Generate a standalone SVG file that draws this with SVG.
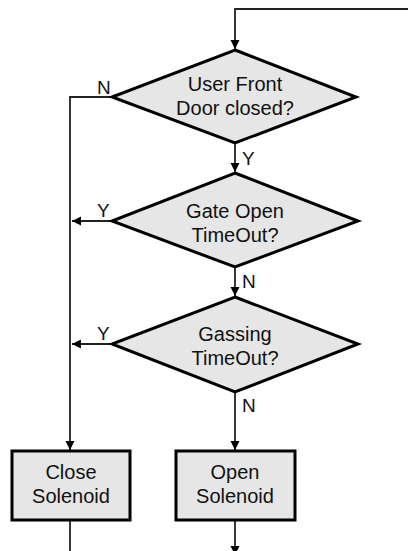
<svg xmlns="http://www.w3.org/2000/svg" width="408" height="551" viewBox="0 0 408 551">
<style>
.shape{fill:#e6e6e6;stroke:#000;stroke-width:3;stroke-linejoin:miter}
.line{fill:none;stroke:#222;stroke-width:1.8}
.t{font-family:"Liberation Sans",Arial,sans-serif;font-size:20px;fill:#111;text-anchor:middle}
.lbl{font-family:"Liberation Sans",Arial,sans-serif;font-size:19px;fill:#111}
</style>
<defs>
<marker id="arr" markerWidth="10" markerHeight="10" refX="9" refY="4.5" orient="auto" markerUnits="userSpaceOnUse">
<path d="M0,0 L9,4.5 L0,9 Z" fill="#000"/>
</marker>
</defs>
<rect width="408" height="551" fill="#fff"/>
<g id="connectors">
<path class="line" d="M408,9 H235 V49" marker-end="url(#arr)"/>
<path class="line" d="M111,97 H70 V450" marker-end="url(#arr)"/>
<path class="line" d="M235,143 V172" marker-end="url(#arr)"/>
<path class="line" d="M111,221 H72" marker-end="url(#arr)"/>
<path class="line" d="M235,267 V296" marker-end="url(#arr)"/>
<path class="line" d="M111,344 H72" marker-end="url(#arr)"/>
<path class="line" d="M235,392 V450" marker-end="url(#arr)"/>
<path class="line" d="M70,520 V551"/>
<path class="line" d="M235,520 V555" marker-end="url(#arr)"/>
<text class="lbl" x="97" y="94">N</text>
<text class="lbl" x="242" y="165">Y</text>
<text class="lbl" x="97" y="217">Y</text>
<text class="lbl" x="242" y="288">N</text>
<text class="lbl" x="97" y="340">Y</text>
<text class="lbl" x="242" y="412">N</text>
</g>
<g id="d1">
<polygon class="shape" points="235,50 356,97 235,143 112,97"/>
<text class="t" x="235" y="91">User Front</text>
<text class="t" x="235" y="115">Door closed?</text>
</g>
<g id="d2">
<polygon class="shape" points="235,173 358,221 235,267 112,221"/>
<text class="t" x="235" y="218">Gate Open</text>
<text class="t" x="235" y="242">TimeOut?</text>
</g>
<g id="d3">
<polygon class="shape" points="235,297 358,344 235,392 112,344"/>
<text class="t" x="235" y="341">Gassing</text>
<text class="t" x="235" y="365">TimeOut?</text>
</g>
<g id="close">
<rect class="shape" x="12" y="451" width="118" height="69"/>
<text class="t" x="71" y="479">Close</text>
<text class="t" x="71" y="503">Solenoid</text>
</g>
<g id="open">
<rect class="shape" x="176" y="451" width="119" height="69"/>
<text class="t" x="235" y="479">Open</text>
<text class="t" x="235" y="503">Solenoid</text>
</g>
</svg>
